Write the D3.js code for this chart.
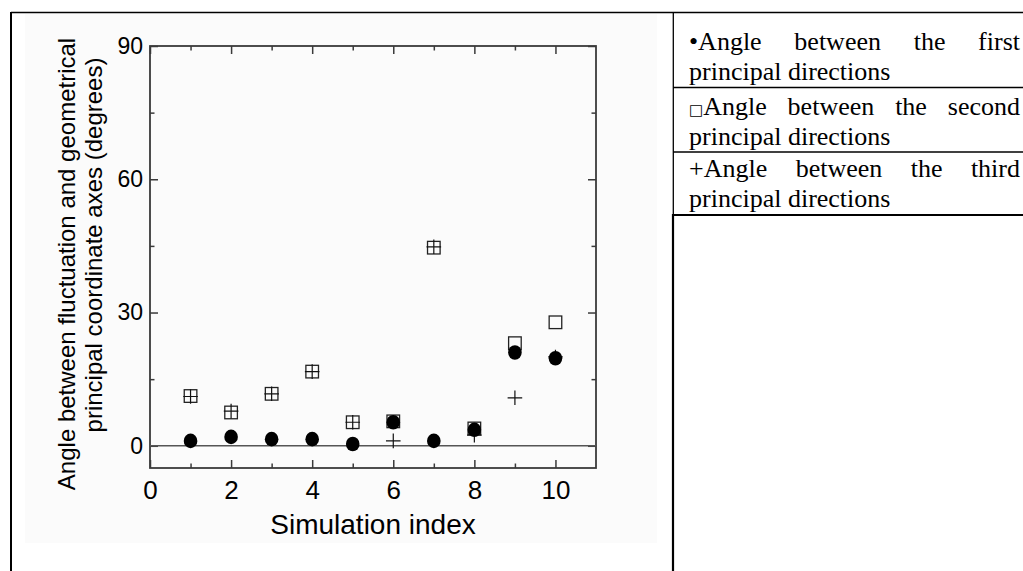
<!DOCTYPE html>
<html>
<head>
<meta charset="utf-8">
<script src="https://cdn.jsdelivr.net/npm/d3@7"></script>
<style>
  html, body { margin: 0; padding: 0; background: #fff; }
  svg { display: block; }
</style>
</head>
<body>
<svg id="chart" width="1023" height="571"></svg>
<script>
// ---------------- data ----------------
const simulationIndex = [1, 2, 3, 4, 5, 6, 7, 8, 9, 10];
const firstAngles  = [1.1, 2.0, 1.5, 1.5, 0.4, 5.3, 1.1, 3.6, 21.0, 19.7];   // filled circles
const secondAngles = [11.2, 7.5, 11.7, 16.7, 5.3, 5.5, 44.6, 3.9, 23.1, 27.8]; // open squares
const thirdAngles  = [11.1, 7.8, 11.7, 16.7, 5.3, 1.1, 44.8, 2.4, 10.8, 20.0]; // plus signs
const xMajorTicks = [0, 2, 4, 6, 8, 10];
const xMinorTicks = [1, 3, 5, 7, 9];
const yMajorTicks = [0, 30, 60, 90];
const yMinorTicks = [15, 45, 75];
const xDomain = [0, 11];
const yDomain = [-5, 90];
const xTitle = "Simulation index";
const yTitleLines = ["Angle between fluctuation and geometrical", "principal coordinate axes (degrees)"];
const legendSymbols = ["•", "□", "+"];
const legendFirstLines = ["Angle between the first", "Angle between the second", "Angle between the third"];
const legendSecondLine = "principal directions";

// ---------------- layout ----------------
const svg = d3.select("#chart");
const P = { left: 150, right: 596, top: 46, bottom: 468 };
const sansFont = "'Liberation Sans', Arial, Helvetica, sans-serif";
const serifFont = "'Liberation Serif', 'Times New Roman', serif";
const axisColor = "#3a3a3a";

// page-like table frame
svg.append("rect").attr("x", 25).attr("y", 14).attr("width", 632).attr("height", 529).attr("fill", "#fbfbfb");
svg.append("line").attr("x1", 11).attr("x2", 1023).attr("y1", 12.5).attr("y2", 12.5).attr("stroke", "#000").attr("stroke-width", 1.5);
svg.append("line").attr("x1", 11).attr("x2", 11).attr("y1", 12).attr("y2", 571).attr("stroke", "#000").attr("stroke-width", 2);
svg.append("line").attr("x1", 673.3).attr("x2", 673.3).attr("y1", 12).attr("y2", 215).attr("stroke", "#000").attr("stroke-width", 1.3);
svg.append("line").attr("x1", 673).attr("x2", 673).attr("y1", 214).attr("y2", 571).attr("stroke", "#000").attr("stroke-width", 2.2);
[87.5, 152].forEach(yy => {
  svg.append("line").attr("x1", 673).attr("x2", 1023).attr("y1", yy).attr("y2", yy).attr("stroke", "#000").attr("stroke-width", 1.5);
});
svg.append("line").attr("x1", 672).attr("x2", 1023).attr("y1", 215).attr("y2", 215).attr("stroke", "#000").attr("stroke-width", 2.2);

// ---------------- scales ----------------
const x = d3.scaleLinear().domain(xDomain).range([P.left, P.right]);
const y = d3.scaleLinear().domain(yDomain).range([P.bottom, P.top]);

function styleAxis(g) {
  g.select(".domain").remove();
  g.selectAll(".tick line").attr("stroke", axisColor).attr("stroke-width", 1.5);
  g.selectAll("text").attr("fill", "#000").attr("font-family", sansFont);
}

// bottom axis
svg.append("g").attr("transform", `translate(0,${P.bottom})`)
  .call(d3.axisBottom(x).tickValues(xMajorTicks).tickSizeInner(-8).tickSizeOuter(0).tickPadding(13).tickFormat(d3.format("d")))
  .call(styleAxis).call(g => g.selectAll("text").attr("font-size", 26));
svg.append("g").attr("transform", `translate(0,${P.bottom})`)
  .call(d3.axisBottom(x).tickValues(xMinorTicks).tickSizeInner(-4.5).tickSizeOuter(0).tickFormat(""))
  .call(styleAxis);
// top axis
svg.append("g").attr("transform", `translate(0,${P.top})`)
  .call(d3.axisTop(x).tickValues(xMajorTicks).tickSizeInner(-8).tickSizeOuter(0).tickFormat(""))
  .call(styleAxis);
svg.append("g").attr("transform", `translate(0,${P.top})`)
  .call(d3.axisTop(x).tickValues(xMinorTicks).tickSizeInner(-4.5).tickSizeOuter(0).tickFormat(""))
  .call(styleAxis);
// left axis
svg.append("g").attr("transform", `translate(${P.left},0)`)
  .call(d3.axisLeft(y).tickValues(yMajorTicks).tickSizeInner(-8).tickSizeOuter(0).tickPadding(7).tickFormat(d3.format("d")))
  .call(styleAxis).call(g => g.selectAll("text").attr("font-size", 23));
svg.append("g").attr("transform", `translate(${P.left},0)`)
  .call(d3.axisLeft(y).tickValues(yMinorTicks).tickSizeInner(-4.5).tickSizeOuter(0).tickFormat(""))
  .call(styleAxis);
// right axis
svg.append("g").attr("transform", `translate(${P.right},0)`)
  .call(d3.axisRight(y).tickValues(yMajorTicks).tickSizeInner(-8).tickSizeOuter(0).tickFormat(""))
  .call(styleAxis);
svg.append("g").attr("transform", `translate(${P.right},0)`)
  .call(d3.axisRight(y).tickValues(yMinorTicks).tickSizeInner(-4.5).tickSizeOuter(0).tickFormat(""))
  .call(styleAxis);

// frame
svg.append("rect").attr("x", P.left).attr("y", P.top)
  .attr("width", P.right - P.left).attr("height", P.bottom - P.top)
  .attr("fill", "none").attr("stroke", axisColor).attr("stroke-width", 1.8);

// zero line
svg.append("line").attr("x1", x(xDomain[0])).attr("x2", x(xDomain[1]))
  .attr("y1", y(0)).attr("y2", y(0)).attr("stroke", "#555").attr("stroke-width", 1.6);

// ---------------- marks ----------------
const rows = simulationIndex.map((s, i) => ({ s, a1: firstAngles[i], a2: secondAngles[i], a3: thirdAngles[i] }));
const marks = svg.append("g");
// squares
const sq = 12.6;
marks.selectAll("rect.sq").data(rows).join("rect").attr("class", "sq")
  .attr("x", d => x(d.s) - sq / 2).attr("y", d => y(d.a2) - sq / 2)
  .attr("width", sq).attr("height", sq)
  .attr("fill", "none").attr("stroke", "#222").attr("stroke-width", 1.3);
// plus
const ph = 7.3;
marks.selectAll("path.plus").data(rows).join("path").attr("class", "plus")
  .attr("d", d => `M${x(d.s) - ph},${y(d.a3)}H${x(d.s) + ph}M${x(d.s)},${y(d.a3) - ph}V${y(d.a3) + ph}`)
  .attr("fill", "none").attr("stroke", "#111").attr("stroke-width", 1.2);
// circles
marks.selectAll("ellipse.dot").data(rows).join("ellipse").attr("class", "dot")
  .attr("cx", d => x(d.s)).attr("cy", d => y(d.a1))
  .attr("rx", 6.8).attr("ry", 7.3).attr("fill", "#000");

// ---------------- titles ----------------
svg.append("text").attr("x", (P.left + P.right) / 2).attr("y", 534)
  .attr("text-anchor", "middle").attr("font-family", sansFont).attr("font-size", 28)
  .attr("fill", "#000").text(xTitle);

const yTitleCenters = [[75, 264], [102, 245]];
yTitleLines.forEach((t, i) => {
  svg.append("text")
    .attr("transform", `translate(${yTitleCenters[i][0]},${yTitleCenters[i][1]}) rotate(-90)`)
    .attr("text-anchor", "middle").attr("font-family", sansFont).attr("font-size", 24)
    .attr("fill", "#000").text(t);
});

// ---------------- legend table ----------------
const legX0 = 689, legX1 = 1020;
const baselines = [[50, 80], [115, 145], [177, 206.5]];
legendFirstLines.forEach((t, i) => {
  const txt = svg.append("text").attr("x", legX0).attr("y", baselines[i][0])
    .attr("font-family", serifFont).attr("font-size", 26).attr("fill", "#000");
  const sym = txt.append("tspan").text(legendSymbols[i]);
  if (legendSymbols[i] === "□") sym.attr("font-size", 15).attr("font-family", "'DejaVu Sans', sans-serif");
  txt.append("tspan").text(t);
  const natural = txt.node().getComputedTextLength();
  const gaps = t.split(" ").length - 1;
  txt.attr("word-spacing", (legX1 - legX0 - natural) / gaps);
  svg.append("text").attr("x", legX0).attr("y", baselines[i][1])
    .attr("font-family", serifFont).attr("font-size", 26).attr("fill", "#000")
    .text(legendSecondLine);
});
</script>
</body>
</html>
